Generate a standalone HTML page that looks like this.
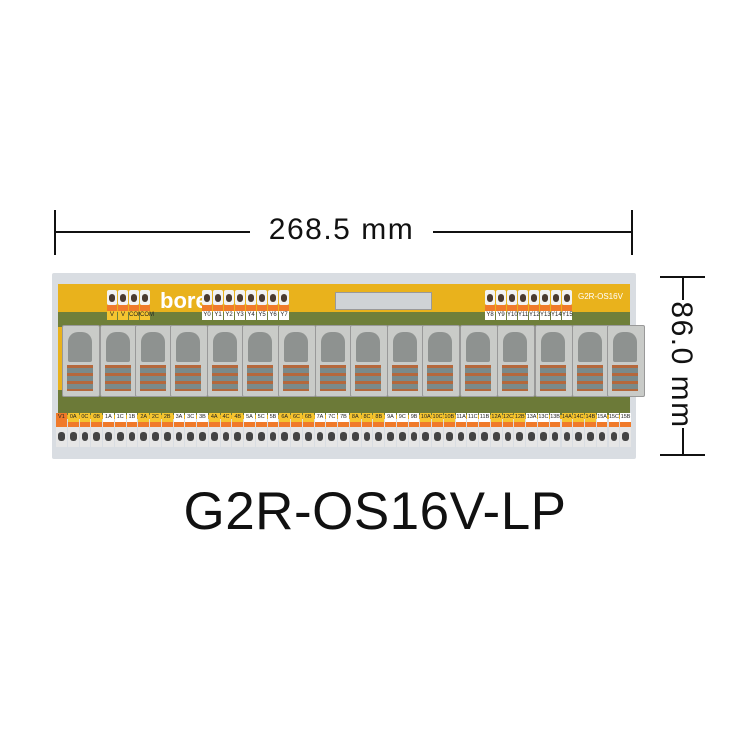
<!DOCTYPE html>
<html><head><meta charset="utf-8"><style>
body{margin:0;width:750px;height:750px;background:#fff;position:relative;overflow:hidden;font-family:"Liberation Sans",sans-serif}
.a{position:absolute}
</style></head><body>
<div class="a" style="left:54px;top:210px;width:2px;height:45px;background:#111"></div>
<div class="a" style="left:631px;top:210px;width:2px;height:45px;background:#111"></div>
<div class="a" style="left:55px;top:231px;width:195px;height:2px;background:#111"></div>
<div class="a" style="left:433px;top:231px;width:199px;height:2px;background:#111"></div>
<div class="a" style="left:250px;top:213px;width:183px;text-align:center;font-size:30px;letter-spacing:1.5px;color:#111">268.5 mm</div>
<div class="a" style="left:660px;top:276px;width:45px;height:2px;background:#111"></div>
<div class="a" style="left:660px;top:454px;width:45px;height:2px;background:#111"></div>
<div class="a" style="left:682px;top:277px;width:2px;height:23px;background:#111"></div>
<div class="a" style="left:682px;top:428px;width:2px;height:27px;background:#111"></div>
<div class="a" style="left:606px;top:348px;width:150px;text-align:center;font-size:30px;letter-spacing:1.5px;color:#111;transform:rotate(90deg);transform-origin:center">86.0 mm</div>
<div class="a" style="left:100px;top:481px;width:550px;text-align:center;font-size:53px;letter-spacing:0.5px;color:#111">G2R-OS16V-LP</div>
<div class="a" style="left:52px;top:273px;width:584px;height:186px;background:#d9dde2;border-radius:2px"></div>
<div class="a" style="left:58px;top:284px;width:572px;height:135px;background:#e9b21c"></div>
<div class="a" style="left:58px;top:312px;width:572px;height:15px;background:#6f7f3a"></div>
<div class="a" style="left:58px;top:390px;width:572px;height:25px;background:#6c7a38"></div>
<div class="a" style="left:160px;top:288px;font-size:22px;font-weight:bold;color:#fff">bore</div>
<div class="a" style="left:335px;top:292px;width:95px;height:16px;background:#cfd3d6;border:1px solid #999"></div>
<div class="a" style="left:578px;top:292px;font-size:8px;color:#fff">G2R-OS16V</div>
<div id="g"></div>
<script>
var g=document.getElementById('g'),h='';
function blk(x,n,w,labels,lc){for(var i=0;i<n;i++){var X=x+i*w;
h+='<div class="a" style="left:'+X+'px;top:290px;width:'+(w-1)+'px;height:15px;background:#f2f2f2;border-radius:2px"></div>';
h+='<div class="a" style="left:'+(X+2)+'px;top:294px;width:'+(w-5)+'px;height:8px;background:#4a3a30;border-radius:3px"></div>';
h+='<div class="a" style="left:'+X+'px;top:305px;width:'+(w-1)+'px;height:6px;background:#f07a2a"></div>';
h+='<div class="a" style="left:'+X+'px;top:311px;width:'+(w-1)+'px;height:9px;background:'+lc+';font-size:6px;text-align:center;line-height:9px;color:#222">'+labels[i]+'</div>';}}
blk(107,4,11,['V','V','COM','COM'],'#f5c530');
blk(202,8,11,['Y0','Y1','Y2','Y3','Y4','Y5','Y6','Y7'],'#fff');
blk(485,8,11,['Y8','Y9','Y10','Y11','Y12','Y13','Y14','Y15'],'#fff');
var cx=[80,118,153,188,225,260,296,333,368,405,440,478,515,553,590,625];
cx.forEach(function(c){
h+='<div class="a" style="left:'+(c-18)+'px;top:325px;width:36px;height:70px;background:#c9cbc8;border:1px solid #999;border-radius:2px"></div>';
h+='<div class="a" style="left:'+(c-12)+'px;top:332px;width:24px;height:30px;background:#8e9290;border-radius:10px 10px 2px 2px"></div>';
h+='<div class="a" style="left:'+(c-13)+'px;top:365px;width:26px;height:26px;background:repeating-linear-gradient(#b5683c 0 3px,#7a8a8a 3px 8px)"></div>';});
var lab=['V1'];for(var i=0;i<16;i++)lab.push(i+'A',i+'C',i+'B');
var w=576/49;
for(var i=0;i<49;i++){var X=56+i*w,y=(i==0||(i>=1&&Math.floor((i-1)/3)%2==0))?'#f5c530':'#fff';
h+='<div class="a" style="left:'+X.toFixed(1)+'px;top:413px;width:'+(w-1).toFixed(1)+'px;height:9px;background:'+(i==0?'#f07a2a':y)+';font-size:5.5px;text-align:center;line-height:9px;color:#222">'+lab[i]+'</div>';
h+='<div class="a" style="left:'+X.toFixed(1)+'px;top:422px;width:'+(w-1).toFixed(1)+'px;height:5px;background:#f07a2a"></div>';
h+='<div class="a" style="left:'+X.toFixed(1)+'px;top:427px;width:'+(w-1).toFixed(1)+'px;height:20px;background:#e6e6e6"></div>';
h+='<div class="a" style="left:'+(X+2).toFixed(1)+'px;top:432px;width:'+(w-5).toFixed(1)+'px;height:9px;background:#444;border-radius:3px"></div>';}
g.innerHTML=h;
</script>
</body></html>
